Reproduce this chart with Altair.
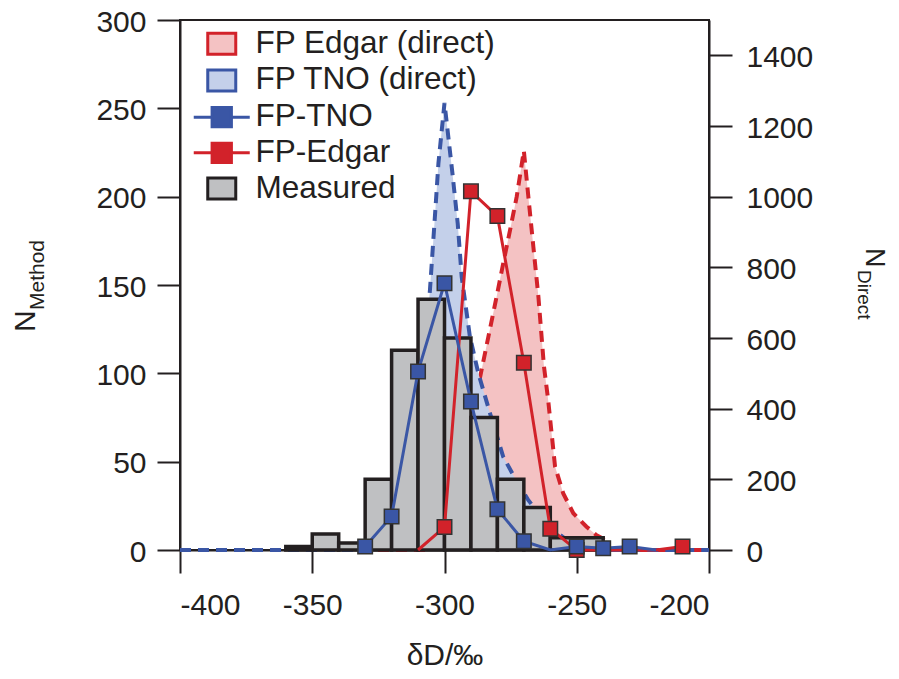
import altair as alt
import pandas as pd

FONT = "Liberation Sans"
DARK = "#231f20"
RED = "#d2222a"
BLUE = "#3a56a5"
PINK = "#f4c2c3"
LIGHTBLUE = "#c4d0ea"
GRAY = "#bfc0c2"

# ---------------- data ----------------
# Measured histogram (left axis, N_Method)
MEAS_BIN_START = [-360, -350, -340, -330, -320, -310, -300, -290, -280, -270, -260, -250]
MEAS_BIN_END = [-350, -340, -330, -320, -310, -300, -290, -280, -270, -260, -250, -240]
MEAS_COUNT = [2, 9, 4, 40, 113, 142, 120, 75, 40, 24, 7, 7]

# FP-TNO (left axis)
TNO_X = [-330, -320, -310, -300, -290, -280, -270, -260, -250, -240, -230, -220]
TNO_N = [2, 19, 101, 151, 84, 23, 5, 0, 2, 1, 2, 0]
TNO_MARK = [True, True, True, True, True, True, True, False, True, True, True, False]

# FP-Edgar (left axis)
EDGAR_X = [-310, -300, -290, -280, -270, -260, -250, -240, -230, -220, -210]
EDGAR_N = [0, 13, 203, 189, 106, 12, 0, 0, 0, 0, 2]
EDGAR_MARK = [False, True, True, True, True, True, True, False, False, False, True]

# FP TNO (direct) (right axis, N_Direct)
TNO_DIRECT_X = [-400, -330, -320, -315, -310, -307, -305.5, -303.8, -302.3, -300, -297,
                -295, -293.5, -290.4, -287.2, -282.8, -277.8, -273, -268.3, -264, -260,
                -255, -250, -245, -240, -200]
TNO_DIRECT_N = [0, 0, 20, 80, 300, 600, 736, 924, 1094, 1265, 1066,
                924, 773, 604, 500, 387, 264, 198, 141, 100, 65,
                35, 15, 5, 0, 0]

# FP Edgar (direct) (right axis)
EDGAR_DIRECT_X = [-400, -305, -300, -295, -290, -286, -283.4, -280.3, -277.8, -275.2,
                  -272.7, -270, -268.3, -266.4, -264.5, -262.4, -260.8, -259.5, -258.2,
                  -255.1, -251.3, -246.3, -242.5, -240, -238, -200]
EDGAR_DIRECT_N = [0, 0, 30, 180, 360, 509, 604, 717, 811, 906,
                  1000, 1130, 1000, 858, 717, 520, 424, 330, 236,
                  160, 104, 66, 42, 32, 0, 0]

LEGEND_LABELS = ["FP Edgar (direct)", "FP TNO (direct)", "FP-TNO", "FP-Edgar", "Measured"]
LEGEND_FILL = [PINK, LIGHTBLUE, BLUE, RED, GRAY]
LEGEND_STROKE = [RED, BLUE, BLUE, RED, DARK]
RECT_PATH = "M-1,-0.75H1V0.75H-1Z"
LINESQ_PATH = "M-2,0H-0.69M0.69,0H2M-0.69,-0.69H0.69V0.69H-0.69Z"
LEGEND_SHAPE = [RECT_PATH, RECT_PATH, LINESQ_PATH, LINESQ_PATH, RECT_PATH]

X_TICKS = [-400, -350, -300, -250, -200]
Y_LEFT_TICKS = [0, 50, 100, 150, 200, 250, 300]
Y_RIGHT_TICKS = [0, 200, 400, 600, 800, 1000, 1200, 1400]
X_TITLE = "δD/‰"
Y_LEFT_TITLE = ["N", "Method"]
Y_RIGHT_TITLE = ["N", "Direct"]

meas_df = pd.DataFrame({"x0": MEAS_BIN_START, "x1": MEAS_BIN_END, "n": MEAS_COUNT})
tno_df = pd.DataFrame({"x": TNO_X, "n": TNO_N, "mk": TNO_MARK})
edgar_df = pd.DataFrame({"x": EDGAR_X, "n": EDGAR_N, "mk": EDGAR_MARK})
tno_d_df = pd.DataFrame({"x": TNO_DIRECT_X, "nd": TNO_DIRECT_N})
edgar_d_df = pd.DataFrame({"x": EDGAR_DIRECT_X, "nd": EDGAR_DIRECT_N})
legend_df = pd.DataFrame({"series": LEGEND_LABELS})

PLAIN = "datum.value + ''"

# ---------------- encodings ----------------
x_scale = alt.Scale(domain=[-400, -200], nice=False, zero=False)
x_axis = alt.Axis(values=X_TICKS, title=X_TITLE, tickSize=23, labelPadding=17, labelExpr=PLAIN,
                  titleFontSize=30, titleFont=FONT, titleFontWeight="normal",
                  titleColor=DARK, titleBaseline="alphabetic", titleY=114)


def X(field):
    return alt.X(f"{field}:Q", scale=x_scale, axis=x_axis)


yl_scale = alt.Scale(domain=[0, 300], nice=False, zero=True)
yl_axis = alt.Axis(orient="left", values=Y_LEFT_TICKS, title=None, tickSize=23,
                   labelPadding=11, labelExpr=PLAIN, labelOffset=2)
yr_scale = alt.Scale(domain=[0, 1500], nice=False, zero=True)
yr_axis = alt.Axis(orient="right", values=Y_RIGHT_TICKS, title=None, tickSize=23,
                   labelPadding=14, labelExpr=PLAIN, labelOffset=2)


def YL(field="n"):
    return alt.Y(f"{field}:Q", scale=yl_scale, axis=yl_axis)


def YR(field="nd"):
    return alt.Y(f"{field}:Q", scale=yr_scale, axis=yr_axis)


# ---------------- right-axis layers (direct) ----------------
edgar_area = alt.Chart(edgar_d_df).mark_area(fill=PINK, opacity=1).encode(x=X("x"), y=YR())
edgar_dash = alt.Chart(edgar_d_df).mark_line(color=RED, strokeWidth=4, strokeDash=[11, 7]).encode(x=X("x"), y=YR())
tno_area = alt.Chart(tno_d_df).mark_area(fill=LIGHTBLUE, opacity=1).encode(x=X("x"), y=YR())
tno_dash = alt.Chart(tno_d_df).mark_line(color=BLUE, strokeWidth=4, strokeDash=[11, 7]).encode(x=X("x"), y=YR())
right_group = alt.layer(edgar_area, edgar_dash, tno_area, tno_dash)

# ---------------- left-axis layers ----------------
bars = alt.Chart(meas_df).mark_rect(fill=GRAY, stroke=DARK, strokeWidth=3.5, strokeJoin="miter", opacity=1).encode(
    x=X("x0"), x2="x1:Q", y=YL(), y2=alt.datum(0)
)
edgar_line = alt.Chart(edgar_df).mark_line(color=RED, strokeWidth=3).encode(x=X("x"), y=YL())
edgar_pts = alt.Chart(edgar_df).transform_filter("datum.mk").mark_square(
    size=210, fill=RED, stroke="#333333", strokeWidth=1.5, opacity=1
).encode(x=X("x"), y=YL())
tno_line = alt.Chart(tno_df).mark_line(color=BLUE, strokeWidth=3).encode(x=X("x"), y=YL())
tno_pts = alt.Chart(tno_df).transform_filter("datum.mk").mark_square(
    size=210, fill=BLUE, stroke="#333333", strokeWidth=1.5, opacity=1
).encode(x=X("x"), y=YL())

legend_layer = alt.Chart(legend_df).transform_filter("false").mark_point(
    filled=True, opacity=1, strokeWidth=3
).encode(
    fill=alt.Fill("series:N", scale=alt.Scale(domain=LEGEND_LABELS, range=LEGEND_FILL), legend=alt.Legend(title=None)),
    stroke=alt.Stroke("series:N", scale=alt.Scale(domain=LEGEND_LABELS, range=LEGEND_STROKE), legend=alt.Legend(title=None)),
    shape=alt.Shape("series:N", scale=alt.Scale(domain=LEGEND_LABELS, range=LEGEND_SHAPE), legend=alt.Legend(title=None)),
)


def label(text, x, y, angle, size):
    return alt.Chart(pd.DataFrame({"t": [text]})).mark_text(
        angle=angle, align="left", baseline="alphabetic", font=FONT, fontSize=size, color=DARK
    ).encode(x=alt.value(x), y=alt.value(y), text="t:N")


t1 = label(Y_LEFT_TITLE[0], -144.7, 312, 270, 30)
t2 = label(Y_LEFT_TITLE[1], -135.7, 290, 270, 21)
t3 = label(Y_RIGHT_TITLE[0], 686, 228, 90, 27)
t4 = label(Y_RIGHT_TITLE[1], 678, 250, 90, 19)

left_group = alt.layer(bars, edgar_line, edgar_pts, tno_line, tno_pts, legend_layer, t1, t2, t3, t4)

chart = alt.layer(right_group, left_group).resolve_scale(y="independent").properties(
    width=529, height=530,
    autosize=alt.AutoSizeParams(type="none"),
    padding={"left": 172, "top": 12, "right": 182, "bottom": 121},
).configure_view(
    stroke=DARK, strokeWidth=2
).configure_axis(
    domainColor=DARK, domainWidth=2, tickColor=DARK, tickWidth=2, grid=False,
    labelFont=FONT, labelFontSize=30, labelColor=DARK,
).configure_legend(
    orient="none", legendX=26, legendY=8, padding=0,
    labelFont=FONT, labelFontSize=31.5, labelColor=DARK, labelLimit=500,
    symbolSize=784, symbolStrokeWidth=3, labelOffset=18, rowPadding=2.7,
    symbolFillColor=GRAY,
)

chart.save("out.html", embed_options={"renderer": "svg", "actions": False})
